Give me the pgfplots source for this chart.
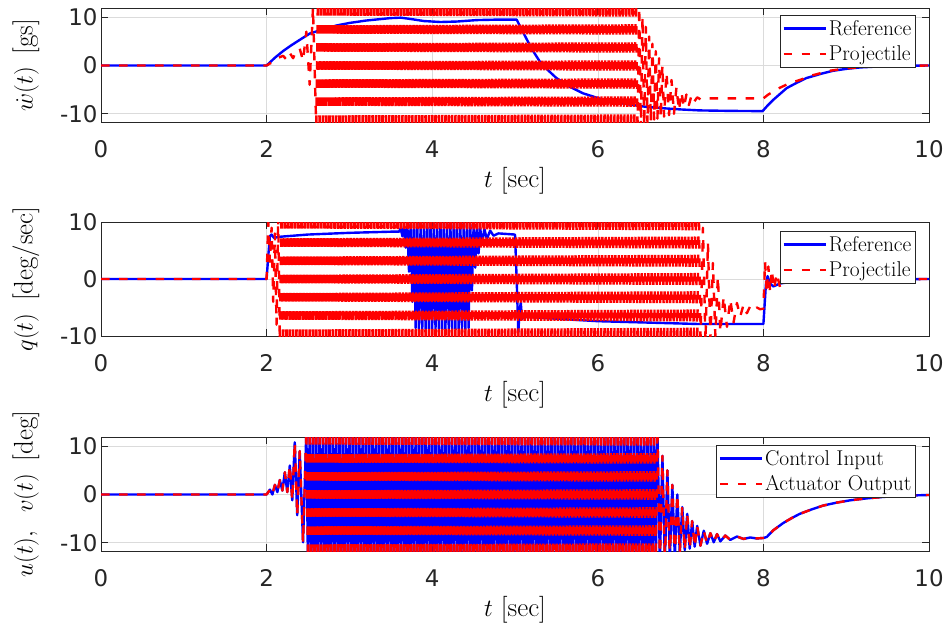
\documentclass[border=0pt]{standalone}
\usepackage{fontspec}
\usepackage{pgfplots}
\usepackage{pgfplotstable}
\pgfplotsset{compat=1.18}
\newfontfamily\tickfont{DejaVu Sans}

% ---------- axis 1: w-dot ----------
\pgfplotstableread[row sep=\\]{
t y\\ 0 0\\ 2.00 0\\ 2.10 1.6\\ 2.20 3.0\\ 2.30 4.2\\ 2.40 5.3\\ 2.52 6.6\\ 2.70 7.6\\ 2.85 8.3\\ 3.00 8.8\\ 3.20 9.3\\ 3.49 9.8\\ 3.62 9.9\\ 3.75 9.6\\ 3.90 9.2\\ 4.10 9.0\\ 4.30 9.1\\ 4.54 9.4\\ 4.80 9.5\\ 5.02 9.5\\ 5.10 6.8\\ 5.20 3.5\\ 5.30 0.8\\ 5.40 -1.0\\ 5.50 -2.6\\ 5.65 -4.3\\ 5.82 -5.75\\ 6.03 -6.9\\ 6.20 -7.6\\ 6.43 -8.2\\ 6.60 -8.6\\ 6.83 -8.9\\ 7.00 -9.1\\ 7.23 -9.3\\ 7.60 -9.4\\ 7.99 -9.45\\ 8.05 -8.3\\ 8.12 -7.1\\ 8.20 -5.9\\ 8.28 -4.7\\ 8.40 -3.6\\ 8.52 -2.6\\ 8.70 -1.7\\ 8.84 -1.1\\ 9.00 -0.7\\ 9.17 -0.4\\ 9.40 -0.2\\ 9.70 -0.08\\ 10 0\\
}\wref

\pgfplotstableread[row sep=\\]{
t y\\ 0 0\\ 2.00 0\\ 2.08 0.8\\ 2.14 1.6\\ 2.20 2.0\\ 2.24 1.2\\ 2.28 2.6\\ 2.32 1.5\\ 2.36 3.2\\ 2.40 3.5\\ 2.44 1.0\\ 2.48 7\\ 2.52 -4\\ 2.56 12\\ 2.60 -13.07\\
}\wprojA

\pgfplotstableread[row sep=\\]{
t y\\
2.60 -13.07\\ 2.62 14.93\\ 2.64 -13.07\\ 2.66 14.93\\ 2.68 -13.07\\ 2.70 14.93\\ 2.72 -13.07\\ 2.74 14.93\\ 2.76 -13.07\\ 2.78 14.93\\
2.80 -13.07\\ 2.82 14.93\\ 2.84 -13.07\\ 2.86 14.93\\ 2.88 -13.07\\ 2.90 14.93\\ 2.92 -13.07\\ 2.94 14.93\\ 2.96 -13.07\\ 2.98 14.93\\
3.00 -13.07\\ 3.02 14.93\\ 3.04 -13.07\\ 3.06 14.93\\ 3.08 -13.07\\ 3.10 14.93\\ 3.12 -13.07\\ 3.14 14.93\\ 3.16 -13.07\\ 3.18 14.93\\
3.20 -13.07\\ 3.22 14.93\\ 3.24 -13.07\\ 3.26 14.93\\ 3.28 -13.07\\ 3.30 14.93\\ 3.32 -13.07\\ 3.34 14.93\\ 3.36 -13.07\\ 3.38 14.93\\
3.40 -13.07\\ 3.42 14.93\\ 3.44 -13.07\\ 3.46 14.93\\ 3.48 -13.07\\ 3.50 14.93\\ 3.52 -13.07\\ 3.54 14.93\\ 3.56 -13.07\\ 3.58 14.93\\
3.60 -13.07\\ 3.62 14.93\\ 3.64 -13.07\\ 3.66 14.93\\ 3.68 -13.07\\ 3.70 14.93\\ 3.72 -13.07\\ 3.74 14.93\\ 3.76 -13.07\\ 3.78 14.93\\
3.80 -13.07\\ 3.82 14.93\\ 3.84 -13.07\\ 3.86 14.93\\ 3.88 -13.07\\ 3.90 14.93\\ 3.92 -13.07\\ 3.94 14.93\\ 3.96 -13.07\\ 3.98 14.93\\
4.00 -13.07\\ 4.02 14.93\\ 4.04 -13.07\\ 4.06 14.93\\ 4.08 -13.07\\ 4.10 14.93\\ 4.12 -13.07\\ 4.14 14.93\\ 4.16 -13.07\\ 4.18 14.93\\
4.20 -13.07\\ 4.22 14.93\\ 4.24 -13.07\\ 4.26 14.93\\ 4.28 -13.07\\ 4.30 14.93\\ 4.32 -13.07\\ 4.34 14.93\\ 4.36 -13.07\\ 4.38 14.93\\
4.40 -13.07\\ 4.42 14.93\\ 4.44 -13.07\\ 4.46 14.93\\ 4.48 -13.07\\ 4.50 14.93\\ 4.52 -13.07\\ 4.54 14.93\\ 4.56 -13.07\\ 4.58 14.93\\
4.60 -13.07\\ 4.62 14.93\\ 4.64 -13.07\\ 4.66 14.93\\ 4.68 -13.07\\ 4.70 14.93\\ 4.72 -13.07\\ 4.74 14.93\\ 4.76 -13.07\\ 4.78 14.93\\
4.80 -13.07\\ 4.82 14.93\\ 4.84 -13.07\\ 4.86 14.93\\ 4.88 -13.07\\ 4.90 14.93\\ 4.92 -13.07\\ 4.94 14.93\\ 4.96 -13.07\\ 4.98 14.93\\
5.00 -13.07\\ 5.02 14.93\\ 5.04 -13.07\\ 5.06 14.93\\ 5.08 -13.07\\ 5.10 14.93\\ 5.12 -13.07\\ 5.14 14.93\\ 5.16 -13.07\\ 5.18 14.93\\
5.20 -13.07\\ 5.22 14.93\\ 5.24 -13.07\\ 5.26 14.93\\ 5.28 -13.07\\ 5.30 14.93\\ 5.32 -13.07\\ 5.34 14.93\\ 5.36 -13.07\\ 5.38 14.93\\
5.40 -13.07\\ 5.42 14.93\\ 5.44 -13.07\\ 5.46 14.93\\ 5.48 -13.07\\ 5.50 14.93\\ 5.52 -13.07\\ 5.54 14.93\\ 5.56 -13.07\\ 5.58 14.93\\
5.60 -13.07\\ 5.62 14.93\\ 5.64 -13.07\\ 5.66 14.93\\ 5.68 -13.07\\ 5.70 14.93\\ 5.72 -13.07\\ 5.74 14.93\\ 5.76 -13.07\\ 5.78 14.93\\
5.80 -13.07\\ 5.82 14.93\\ 5.84 -13.07\\ 5.86 14.93\\ 5.88 -13.07\\ 5.90 14.93\\ 5.92 -13.07\\ 5.94 14.93\\ 5.96 -13.07\\ 5.98 14.93\\
6.00 -13.07\\ 6.02 14.93\\ 6.04 -13.07\\ 6.06 14.93\\ 6.08 -13.07\\ 6.10 14.93\\ 6.12 -13.07\\ 6.14 14.93\\ 6.16 -13.07\\ 6.18 14.93\\
6.20 -13.07\\ 6.22 14.93\\ 6.24 -13.07\\ 6.26 14.93\\ 6.28 -13.07\\ 6.30 14.93\\ 6.32 -13.07\\ 6.34 14.93\\ 6.36 -13.07\\ 6.38 14.93\\
6.40 -13.07\\ 6.42 14.93\\ 6.44 -13.07\\ 6.46 14.93\\ 6.48 -13.07\\
}\wprojB

\pgfplotstableread[row sep=\\]{
t y\\ 6.48 -13.07\\
6.50 12\\ 6.52 -13\\ 6.54 10\\ 6.56 -12.5\\ 6.58 8\\ 6.60 -12\\ 6.62 6\\ 6.64 -11.5\\ 6.66 4.5\\ 6.68 -11.2\\ 6.70 3\\ 6.72 -11\\ 6.74 1.5\\ 6.76 -10.8\\ 6.78 0\\ 6.80 -10.6\\ 6.83 -1.5\\ 6.86 -10.3\\ 6.89 -3\\ 6.92 -10\\ 6.95 -4.5\\ 6.98 -9.3\\ 7.01 -5.5\\ 7.04 -8.7\\ 7.07 -6\\ 7.10 -8.2\\ 7.13 -6.3\\ 7.16 -7.6\\ 7.20 -6.6\\ 7.25 -7.1\\ 7.30 -6.8\\ 8.00 -6.8\\ 8.06 -6.0\\ 8.12 -5.4\\ 8.20 -4.6\\ 8.30 -3.8\\ 8.44 -3.0\\ 8.60 -2.0\\ 8.80 -1.1\\ 9.00 -0.6\\ 9.20 -0.3\\ 9.50 -0.1\\ 10 0\\
}\wprojC

% ---------- axis 2: q ----------
\pgfplotstableread[row sep=\\]{
t y\\ 0 0\\ 2.00 0\\ 2.02 4\\ 2.04 7.5\\ 2.06 7.8\\ 2.09 7.2\\ 2.15 7.4\\ 2.50 7.8\\ 3.00 8.1\\ 3.50 8.3\\
3.60 8.3\\ 3.62 8.9\\ 3.64 7.5\\ 3.66 9.3\\ 3.68 5.5\\ 3.70 9.5\\ 3.72 1.3\\ 3.74 9.7\\ 3.76 -4\\ 3.78 9.8\\
3.80 -8.6\\ 3.82 9.8\\ 3.84 -8.8\\ 3.86 9.8\\ 3.88 -8.8\\ 3.90 9.8\\ 3.92 -8.8\\ 3.94 9.8\\ 3.96 -8.8\\ 3.98 9.8\\
4.00 -8.8\\ 4.02 9.8\\ 4.04 -8.8\\ 4.06 9.8\\ 4.08 -8.8\\ 4.10 9.8\\ 4.12 -8.8\\ 4.14 9.8\\ 4.16 -8.8\\ 4.18 9.8\\
4.20 -8.8\\ 4.22 9.8\\ 4.24 -8.8\\ 4.26 9.8\\ 4.28 -8.8\\ 4.30 9.8\\ 4.32 -8.8\\ 4.34 9.8\\ 4.36 -8.8\\ 4.38 9.8\\
4.40 -8.8\\ 4.42 9.8\\ 4.44 -8.6\\ 4.46 9.6\\ 4.48 -2\\ 4.50 9.4\\ 4.52 2\\ 4.54 9.2\\ 4.56 4.5\\ 4.58 9.0\\
4.60 6\\ 4.63 8.8\\ 4.66 7.0\\ 4.70 8.5\\ 4.74 7.6\\ 4.80 8.0\\ 5.00 7.8\\ 5.02 0\\ 5.04 -9.3\\ 5.055 -5.5\\ 5.07 -4.2\\ 5.085 -7\\ 5.10 -6.6\\ 5.42 -6.9\\ 6.00 -7.4\\ 7.23 -7.9\\ 8.00 -7.9\\ 8.03 -1\\ 8.05 0.5\\ 8.08 -0.8\\ 8.12 -1.3\\ 8.20 -0.8\\ 8.40 -0.3\\ 8.70 -0.1\\ 10 0\\
}\qref

\pgfplotstableread[row sep=\\]{
t y\\ 0 0\\ 2.00 0\\ 2.02 10\\ 2.04 3\\ 2.06 9\\ 2.08 -4\\ 2.10 8\\ 2.12 -8\\ 2.14 11\\ 2.16 -11.2\\
}\qprojA

\pgfplotstableread[row sep=\\]{
t y\\ 2.16 -11.2\\ 2.18 12.8\\
2.20 -11.2\\ 2.22 12.8\\ 2.24 -11.2\\ 2.26 12.8\\ 2.28 -11.2\\ 2.30 12.8\\ 2.32 -11.2\\ 2.34 12.8\\ 2.36 -11.2\\ 2.38 12.8\\
2.40 -11.2\\ 2.42 12.8\\ 2.44 -11.2\\ 2.46 12.8\\ 2.48 -11.2\\ 2.50 12.8\\ 2.52 -11.2\\ 2.54 12.8\\ 2.56 -11.2\\ 2.58 12.8\\
2.60 -11.2\\ 2.62 12.8\\ 2.64 -11.2\\ 2.66 12.8\\ 2.68 -11.2\\ 2.70 12.8\\ 2.72 -11.2\\ 2.74 12.8\\ 2.76 -11.2\\ 2.78 12.8\\
2.80 -11.2\\ 2.82 12.8\\ 2.84 -11.2\\ 2.86 12.8\\ 2.88 -11.2\\ 2.90 12.8\\ 2.92 -11.2\\ 2.94 12.8\\ 2.96 -11.2\\ 2.98 12.8\\
3.00 -11.2\\ 3.02 12.8\\ 3.04 -11.2\\ 3.06 12.8\\ 3.08 -11.2\\ 3.10 12.8\\ 3.12 -11.2\\ 3.14 12.8\\ 3.16 -11.2\\ 3.18 12.8\\
3.20 -11.2\\ 3.22 12.8\\ 3.24 -11.2\\ 3.26 12.8\\ 3.28 -11.2\\ 3.30 12.8\\ 3.32 -11.2\\ 3.34 12.8\\ 3.36 -11.2\\ 3.38 12.8\\
3.40 -11.2\\ 3.42 12.8\\ 3.44 -11.2\\ 3.46 12.8\\ 3.48 -11.2\\ 3.50 12.8\\ 3.52 -11.2\\ 3.54 12.8\\ 3.56 -11.2\\ 3.58 12.8\\
3.60 -11.2\\ 3.62 12.8\\ 3.64 -11.2\\ 3.66 12.8\\ 3.68 -11.2\\ 3.70 12.8\\ 3.72 -11.2\\ 3.74 12.8\\ 3.76 -11.2\\ 3.78 12.8\\
3.80 -11.2\\ 3.82 12.8\\ 3.84 -11.2\\ 3.86 12.8\\ 3.88 -11.2\\ 3.90 12.8\\ 3.92 -11.2\\ 3.94 12.8\\ 3.96 -11.2\\ 3.98 12.8\\
4.00 -11.2\\ 4.02 12.8\\ 4.04 -11.2\\ 4.06 12.8\\ 4.08 -11.2\\ 4.10 12.8\\ 4.12 -11.2\\ 4.14 12.8\\ 4.16 -11.2\\ 4.18 12.8\\
4.20 -11.2\\ 4.22 12.8\\ 4.24 -11.2\\ 4.26 12.8\\ 4.28 -11.2\\ 4.30 12.8\\ 4.32 -11.2\\ 4.34 12.8\\ 4.36 -11.2\\ 4.38 12.8\\
4.40 -11.2\\ 4.42 12.8\\ 4.44 -11.2\\ 4.46 12.8\\ 4.48 -11.2\\ 4.50 12.8\\ 4.52 -11.2\\ 4.54 12.8\\ 4.56 -11.2\\ 4.58 12.8\\
4.60 -11.2\\ 4.62 12.8\\ 4.64 -11.2\\ 4.66 12.8\\ 4.68 -11.2\\ 4.70 12.8\\ 4.72 -11.2\\ 4.74 12.8\\ 4.76 -11.2\\ 4.78 12.8\\
4.80 -11.2\\ 4.82 12.8\\ 4.84 -11.2\\ 4.86 12.8\\ 4.88 -11.2\\ 4.90 12.8\\ 4.92 -11.2\\ 4.94 12.8\\ 4.96 -11.2\\ 4.98 12.8\\
5.00 -11.2\\ 5.02 12.8\\ 5.04 -11.2\\ 5.06 12.8\\ 5.08 -11.2\\ 5.10 12.8\\ 5.12 -11.2\\ 5.14 12.8\\ 5.16 -11.2\\ 5.18 12.8\\
5.20 -11.2\\ 5.22 12.8\\ 5.24 -11.2\\ 5.26 12.8\\ 5.28 -11.2\\ 5.30 12.8\\ 5.32 -11.2\\ 5.34 12.8\\ 5.36 -11.2\\ 5.38 12.8\\
5.40 -11.2\\ 5.42 12.8\\ 5.44 -11.2\\ 5.46 12.8\\ 5.48 -11.2\\ 5.50 12.8\\ 5.52 -11.2\\ 5.54 12.8\\ 5.56 -11.2\\ 5.58 12.8\\
5.60 -11.2\\ 5.62 12.8\\ 5.64 -11.2\\ 5.66 12.8\\ 5.68 -11.2\\ 5.70 12.8\\ 5.72 -11.2\\ 5.74 12.8\\ 5.76 -11.2\\ 5.78 12.8\\
5.80 -11.2\\ 5.82 12.8\\ 5.84 -11.2\\ 5.86 12.8\\ 5.88 -11.2\\ 5.90 12.8\\ 5.92 -11.2\\ 5.94 12.8\\ 5.96 -11.2\\ 5.98 12.8\\
6.00 -11.2\\ 6.02 12.8\\ 6.04 -11.2\\ 6.06 12.8\\ 6.08 -11.2\\ 6.10 12.8\\ 6.12 -11.2\\ 6.14 12.8\\ 6.16 -11.2\\ 6.18 12.8\\
6.20 -11.2\\ 6.22 12.8\\ 6.24 -11.2\\ 6.26 12.8\\ 6.28 -11.2\\ 6.30 12.8\\ 6.32 -11.2\\ 6.34 12.8\\ 6.36 -11.2\\ 6.38 12.8\\
6.40 -11.2\\ 6.42 12.8\\ 6.44 -11.2\\ 6.46 12.8\\ 6.48 -11.2\\ 6.50 12.8\\ 6.52 -11.2\\ 6.54 12.8\\ 6.56 -11.2\\ 6.58 12.8\\
6.60 -11.2\\ 6.62 12.8\\ 6.64 -11.2\\ 6.66 12.8\\ 6.68 -11.2\\ 6.70 12.8\\ 6.72 -11.2\\ 6.74 12.8\\ 6.76 -11.2\\ 6.78 12.8\\
6.80 -11.2\\ 6.82 12.8\\ 6.84 -11.2\\ 6.86 12.8\\ 6.88 -11.2\\ 6.90 12.8\\ 6.92 -11.2\\ 6.94 12.8\\ 6.96 -11.2\\ 6.98 12.8\\
7.00 -11.2\\ 7.02 12.8\\ 7.04 -11.2\\ 7.06 12.8\\ 7.08 -11.2\\ 7.10 12.8\\ 7.12 -11.2\\ 7.14 12.8\\ 7.16 -11.2\\ 7.18 12.8\\
7.20 -11.2\\ 7.22 12.8\\ 7.24 -11.2\\
}\qprojB

\pgfplotstableread[row sep=\\]{
t y\\ 7.24 -11.2\\
7.27 9\\ 7.30 -11\\ 7.33 6.3\\ 7.36 -10.5\\ 7.39 2.8\\ 7.42 -10\\ 7.45 0.4\\ 7.48 -9.3\\ 7.52 -3.1\\ 7.56 -8.4\\ 7.60 -3.6\\ 7.64 -7.6\\ 7.68 -4.2\\ 7.72 -6.6\\ 7.76 -4.5\\ 7.80 -6\\ 7.84 -4.8\\ 7.88 -5.5\\ 7.92 -5.0\\ 7.96 -5.3\\ 8.00 -5.2\\ 8.02 3\\ 8.04 -2.5\\ 8.06 2.2\\ 8.08 -2.2\\ 8.10 1.6\\ 8.13 -1.8\\ 8.16 1.0\\ 8.20 -1.4\\ 8.24 0.4\\ 8.28 -1\\ 8.33 0\\ 8.40 -0.6\\ 8.50 -0.2\\ 8.70 -0.1\\ 10 0\\
}\qprojC

% ---------- axis 3: u, v ----------
\pgfplotstableread[row sep=\\]{
t y\\ 0 0\\ 2.00 0\\ 2.04 1\\ 2.07 0\\ 2.10 2\\ 2.13 0.5\\ 2.16 3\\ 2.19 0.8\\ 2.22 4.6\\ 2.25 0.5\\ 2.28 6\\ 2.31 -1.2\\ 2.34 10.8\\ 2.37 -4.3\\ 2.40 9\\ 2.44 -9.9\\ 2.48 13.07\\
}\uA

\pgfplotstableread[row sep=\\]{
t y\\
2.48 13.07\\ 2.50 -14.93\\ 2.52 13.07\\ 2.54 -14.93\\ 2.56 13.07\\ 2.58 -14.93\\
2.60 13.07\\ 2.62 -14.93\\ 2.64 13.07\\ 2.66 -14.93\\ 2.68 13.07\\ 2.70 -14.93\\ 2.72 13.07\\ 2.74 -14.93\\ 2.76 13.07\\ 2.78 -14.93\\
2.80 13.07\\ 2.82 -14.93\\ 2.84 13.07\\ 2.86 -14.93\\ 2.88 13.07\\ 2.90 -14.93\\ 2.92 13.07\\ 2.94 -14.93\\ 2.96 13.07\\ 2.98 -14.93\\
3.00 13.07\\ 3.02 -14.93\\ 3.04 13.07\\ 3.06 -14.93\\ 3.08 13.07\\ 3.10 -14.93\\ 3.12 13.07\\ 3.14 -14.93\\ 3.16 13.07\\ 3.18 -14.93\\
3.20 13.07\\ 3.22 -14.93\\ 3.24 13.07\\ 3.26 -14.93\\ 3.28 13.07\\ 3.30 -14.93\\ 3.32 13.07\\ 3.34 -14.93\\ 3.36 13.07\\ 3.38 -14.93\\
3.40 13.07\\ 3.42 -14.93\\ 3.44 13.07\\ 3.46 -14.93\\ 3.48 13.07\\ 3.50 -14.93\\ 3.52 13.07\\ 3.54 -14.93\\ 3.56 13.07\\ 3.58 -14.93\\
3.60 13.07\\ 3.62 -14.93\\ 3.64 13.07\\ 3.66 -14.93\\ 3.68 13.07\\ 3.70 -14.93\\ 3.72 13.07\\ 3.74 -14.93\\ 3.76 13.07\\ 3.78 -14.93\\
3.80 13.07\\ 3.82 -14.93\\ 3.84 13.07\\ 3.86 -14.93\\ 3.88 13.07\\ 3.90 -14.93\\ 3.92 13.07\\ 3.94 -14.93\\ 3.96 13.07\\ 3.98 -14.93\\
4.00 13.07\\ 4.02 -14.93\\ 4.04 13.07\\ 4.06 -14.93\\ 4.08 13.07\\ 4.10 -14.93\\ 4.12 13.07\\ 4.14 -14.93\\ 4.16 13.07\\ 4.18 -14.93\\
4.20 13.07\\ 4.22 -14.93\\ 4.24 13.07\\ 4.26 -14.93\\ 4.28 13.07\\ 4.30 -14.93\\ 4.32 13.07\\ 4.34 -14.93\\ 4.36 13.07\\ 4.38 -14.93\\
4.40 13.07\\ 4.42 -14.93\\ 4.44 13.07\\ 4.46 -14.93\\ 4.48 13.07\\ 4.50 -14.93\\ 4.52 13.07\\ 4.54 -14.93\\ 4.56 13.07\\ 4.58 -14.93\\
4.60 13.07\\ 4.62 -14.93\\ 4.64 13.07\\ 4.66 -14.93\\ 4.68 13.07\\ 4.70 -14.93\\ 4.72 13.07\\ 4.74 -14.93\\ 4.76 13.07\\ 4.78 -14.93\\
4.80 13.07\\ 4.82 -14.93\\ 4.84 13.07\\ 4.86 -14.93\\ 4.88 13.07\\ 4.90 -14.93\\ 4.92 13.07\\ 4.94 -14.93\\ 4.96 13.07\\ 4.98 -14.93\\
5.00 13.07\\ 5.02 -14.93\\ 5.04 13.07\\ 5.06 -14.93\\ 5.08 13.07\\ 5.10 -14.93\\ 5.12 13.07\\ 5.14 -14.93\\ 5.16 13.07\\ 5.18 -14.93\\
5.20 13.07\\ 5.22 -14.93\\ 5.24 13.07\\ 5.26 -14.93\\ 5.28 13.07\\ 5.30 -14.93\\ 5.32 13.07\\ 5.34 -14.93\\ 5.36 13.07\\ 5.38 -14.93\\
5.40 13.07\\ 5.42 -14.93\\ 5.44 13.07\\ 5.46 -14.93\\ 5.48 13.07\\ 5.50 -14.93\\ 5.52 13.07\\ 5.54 -14.93\\ 5.56 13.07\\ 5.58 -14.93\\
5.60 13.07\\ 5.62 -14.93\\ 5.64 13.07\\ 5.66 -14.93\\ 5.68 13.07\\ 5.70 -14.93\\ 5.72 13.07\\ 5.74 -14.93\\ 5.76 13.07\\ 5.78 -14.93\\
5.80 13.07\\ 5.82 -14.93\\ 5.84 13.07\\ 5.86 -14.93\\ 5.88 13.07\\ 5.90 -14.93\\ 5.92 13.07\\ 5.94 -14.93\\ 5.96 13.07\\ 5.98 -14.93\\
6.00 13.07\\ 6.02 -14.93\\ 6.04 13.07\\ 6.06 -14.93\\ 6.08 13.07\\ 6.10 -14.93\\ 6.12 13.07\\ 6.14 -14.93\\ 6.16 13.07\\ 6.18 -14.93\\
6.20 13.07\\ 6.22 -14.93\\ 6.24 13.07\\ 6.26 -14.93\\ 6.28 13.07\\ 6.30 -14.93\\ 6.32 13.07\\ 6.34 -14.93\\ 6.36 13.07\\ 6.38 -14.93\\
6.40 13.07\\ 6.42 -14.93\\ 6.44 13.07\\ 6.46 -14.93\\ 6.48 13.07\\ 6.50 -14.93\\ 6.52 13.07\\ 6.54 -14.93\\ 6.56 13.07\\ 6.58 -14.93\\
6.60 13.07\\ 6.62 -14.93\\ 6.64 13.07\\ 6.66 -14.93\\ 6.68 13.07\\ 6.70 -14.93\\ 6.72 13.07\\
}\uB

\pgfplotstableread[row sep=\\]{
t y\\ 6.72 13.07\\
6.75 -14\\ 6.78 8\\ 6.81 -14\\ 6.84 5\\ 6.87 -13.5\\ 6.90 2\\ 6.93 -13\\ 6.96 0\\ 6.99 -12\\ 7.02 -2.6\\ 7.05 -11.5\\ 7.08 -4\\ 7.11 -11.2\\ 7.14 -5.5\\ 7.17 -10.8\\ 7.20 -6.5\\ 7.24 -10.6\\ 7.28 -7.5\\ 7.32 -10.2\\ 7.36 -8\\ 7.40 -9.9\\ 7.44 -8.2\\ 7.48 -9.7\\ 7.54 -8.5\\ 7.60 -9.4\\ 7.68 -8.7\\ 7.76 -9.2\\ 7.84 -8.9\\ 7.92 -9.1\\ 8.00 -9.0\\
8.04 -8.8\\ 8.12 -7.4\\ 8.24 -5.9\\ 8.34 -4.9\\ 8.44 -4.0\\ 8.58 -3.1\\ 8.72 -2.3\\ 8.88 -1.7\\ 9.05 -1.2\\ 9.25 -0.8\\ 9.45 -0.5\\ 9.70 -0.25\\ 10 -0.1\\
}\uC

\pgfplotsset{
  myaxis/.style={
    scale only axis, width=828bp, height=114bp,
    xmin=0, xmax=10, xtick={0,2,4,6,8,10}, xticklabels={0,2,4,6,8,10},
    ytick={-10,0,10}, yticklabels={-10,0,10},
    grid=major, major grid style={draw=black!14, line width=0.6bp},
    axis line style={draw=black!85, line width=0.8bp},
    tick style={draw=black!85, line width=0.8bp},
    major tick length=7bp,
    ticklabel style={font=\tickfont\fontsize{23}{23}\selectfont, text=black!85},
    xticklabel style={yshift=-15bp},
    xlabel style={font=\fontsize{27}{32}\selectfont, at={(axis description cs:0.5,0)}, anchor=center, yshift=-59bp},
    ylabel style={font=\fontsize{27}{32}\selectfont, at={(axis description cs:-0.0906,0.5)}, anchor=center},
    xlabel={$t$ [sec]},
    legend style={font=\fontsize{21.5}{25}\selectfont, draw=black!85, line width=0.8bp, fill=white,
      inner xsep=2bp, inner ysep=3bp, row sep=5bp, anchor=north east, legend cell align=left},
    legend image code/.code={\draw[##1] (0bp,0bp) -- (42bp,0bp);},
  },
  blueline/.style={draw=blue, line width=2.4bp, no markers, line join=round},
  redline/.style={draw=red, line width=2.4bp, no markers, line join=round, dash pattern=on 8.5bp off 9.536bp},
  redlineq/.style={draw=red, line width=2.4bp, no markers, line join=round, dash pattern=on 8.5bp off 9.742bp},
}

\begin{document}
\begin{tikzpicture}
\path[use as bounding box] (0,0) rectangle (949bp,-628bp);

\begin{axis}[myaxis, at={(101bp,-8bp)}, anchor=north west,
  ymin=-11.7, ymax=11.9, ylabel={$\dot{w}(t)$ \,[gs]},
  legend style={at={(0.984,0.939)}}]
\addplot[blueline] table[x=t,y=y] {\wref};
\addlegendentry{Reference}
\addplot[redline] table[x=t,y=y] {\wprojA};
\addlegendentry{Projectile}
\addplot[redline, dash phase=13.268bp, forget plot] table[x=t,y=y] {\wprojB};
\addplot[redline, forget plot] table[x=t,y=y] {\wprojC};
\end{axis}

\begin{axis}[myaxis, at={(101bp,-222bp)}, anchor=north west,
  ymin=-10, ymax=10, ylabel={$q(t)$ \,[deg/sec]},
  legend style={at={(0.984,0.921)}}]
\addplot[blueline] table[x=t,y=y] {\qref};
\addlegendentry{Reference}
\addplot[redlineq] table[x=t,y=y] {\qprojA};
\addlegendentry{Projectile}
\addplot[redlineq, dash phase=13.371bp, forget plot] table[x=t,y=y] {\qprojB};
\addplot[redlineq, forget plot] table[x=t,y=y] {\qprojC};
\end{axis}

\begin{axis}[myaxis, at={(101bp,-437bp)}, anchor=north west,
  ymin=-11.7, ymax=11.9, ylabel={$u(t),\;\;v(t)$ \,[deg]},
  legend style={at={(0.984,0.93)}}]
\addplot[blueline] table[x=t,y=y] {\uA};
\addlegendentry{Control Input}
\addplot[blueline, forget plot] table[x=t,y=y] {\uB};
\addplot[blueline, forget plot] table[x=t,y=y] {\uC};
\addplot[redline] table[x=t,y=y] {\uA};
\addlegendentry{Actuator Output}
\addplot[redline, dash phase=13.268bp, forget plot] table[x=t,y=y] {\uB};
\addplot[redline, forget plot] table[x=t,y=y] {\uC};
\end{axis}
\end{tikzpicture}
\end{document}
